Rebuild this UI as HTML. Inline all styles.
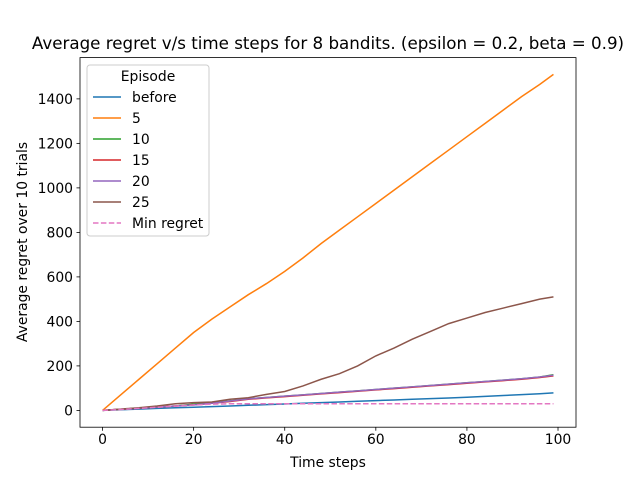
<!DOCTYPE html>
<html><head><meta charset="utf-8"><style>body{margin:0;background:#fff}svg{font-family:"DejaVu Sans","Liberation Sans",sans-serif}</style></head>
<body>
<svg id="c" width="640" height="480"></svg>
<script>
const xTicks=[0,20,40,60,80,100];
const yTicks=[0,200,400,600,800,1000,1200,1400];
const steps=[0,4,8,12,16,20,24,28,32,36,40,44,48,52,56,60,64,68,72,76,80,84,88,92,96,99];
const sBefore=[0,3,6,9,12,14,17,20,23,26,29,32,35,38,41,44,47,50,53,56,59,63,67,71,75,79];
const s5=[0,70,140,210,280,350,410,465,520,570,625,685,750,810,870,930,990,1050,1110,1170,1230,1290,1350,1410,1465,1510];
const s10=[0,5,10,15,20,28,35,43,52,58,64,70,76,82,88,94,100,106,112,118,124,130,136,142,150,160];
const s15=[0,5,10,15,20,25,32,40,50,56,62,68,74,80,86,92,98,104,110,116,122,128,134,140,148,155];
const s20=[0,5,10,15,20,25,32,42,52,58,64,70,76,82,88,94,100,106,112,118,124,130,136,142,150,158];
const s25=[0,6,12,20,30,35,38,50,57,72,85,110,140,165,200,245,280,320,355,390,415,440,460,480,500,510];
const sMin=[0,4,9,14,19,24,28,30,30,30,30,30,30,30,30,30,30,30,30,30,30,30,30,30,30,30];
const L=80,R=576,T=57.6,B=427.2,x0=-4.95,x1=103.95,y0=-75.5,y1=1585.5;
const X=v=>L+(v-x0)/(x1-x0)*(R-L), Y=v=>B-(v-y0)/(y1-y0)*(B-T);
const svg=document.getElementById('c');const NS='http://www.w3.org/2000/svg';
function el(t,a,p){const e=document.createElementNS(NS,t);for(const k in a)e.setAttribute(k,a[k]);(p||svg).appendChild(e);return e;}
const series=[[sBefore,'#1f77b4','before',''],[s5,'#ff7f0e','5',''],[s10,'#2ca02c','10',''],[s15,'#d62728','15',''],[s20,'#9467bd','20',''],[s25,'#8c564b','25',''],[sMin,'#e377c2','Min regret','5.5,2.4']];
series.forEach(s=>{const p=el('polyline',{points:steps.map((t,i)=>X(t)+','+Y(s[0][i])).join(' '),fill:'none',stroke:s[1],'stroke-width':1.5,'stroke-dasharray':s[3]||'none'});

});
el('rect',{x:L,y:T,width:R-L,height:B-T,fill:'none',stroke:'#000','stroke-width':0.8,});
xTicks.forEach(v=>{el('line',{x1:X(v),x2:X(v),y1:B,y2:B+3.5,stroke:'#000','stroke-width':0.8});
const t=el('text',{x:X(v),y:B+17,'font-size':'13.9','text-anchor':'middle'});t.textContent=v;
});
yTicks.forEach(v=>{el('line',{x1:L-3.5,x2:L,y1:Y(v),y2:Y(v),stroke:'#000','stroke-width':0.8});
const t=el('text',{x:L-7,y:Y(v)+5,'font-size':'13.9','text-anchor':'end'});t.textContent=v;
});
let t=el('text',{x:328,y:49,'font-size':'16.7','text-anchor':'middle',});t.textContent='Average regret v/s time steps for 8 bandits. (epsilon = 0.2, beta = 0.9)';
t=el('text',{x:328,y:467,'font-size':'13.9','text-anchor':'middle',});t.textContent='Time steps';
t=el('text',{x:0,y:0,'font-size':'13.9','text-anchor':'middle',transform:'translate(27,242) rotate(-90)',});t.textContent='Average regret over 10 trials';
const lg=el('g',{});
el('rect',{x:87,y:65,width:122,height:171,rx:3,fill:'#fff','fill-opacity':0.8,stroke:'#ccc'},lg);
t=el('text',{x:148,y:81,'font-size':'13.9','text-anchor':'middle'},lg);t.textContent='Episode';
series.forEach((s,i)=>{const y=97+i*21;
const g=el('g',{},lg);
el('line',{x1:93,x2:121,y1:y,y2:y,stroke:s[1],'stroke-width':1.5,'stroke-dasharray':s[3]||'none'},g);
const tt=el('text',{x:132,y:y+5,'font-size':'13.9'},g);tt.textContent=s[2];});
</script>
</body></html>
